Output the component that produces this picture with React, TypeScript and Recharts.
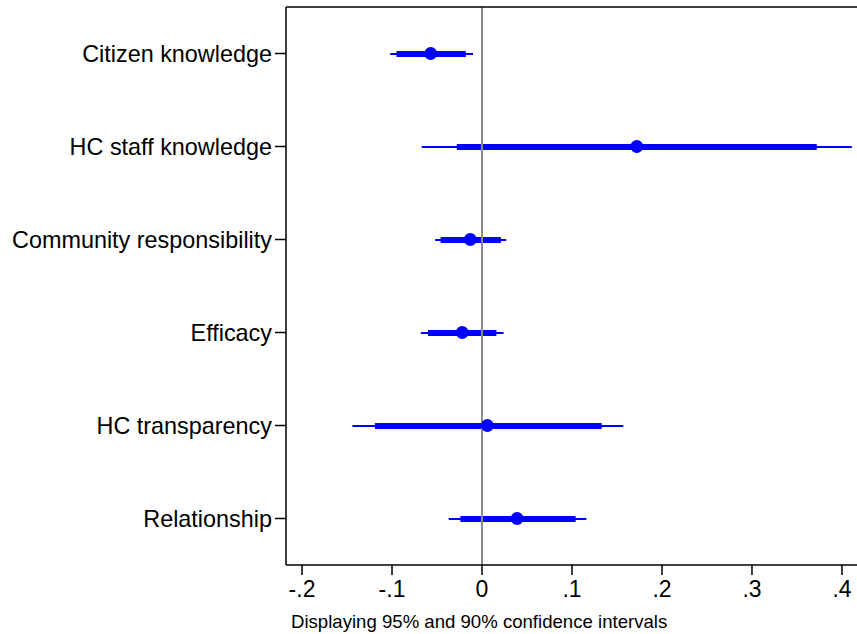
import React from 'react';
import {
  ComposedChart,
  Bar,
  Line,
  XAxis,
  YAxis,
  ReferenceLine,
} from 'recharts';

// Coefficient estimates with 95% and 90% confidence bounds
const categories = [
  'Citizen knowledge',
  'HC staff knowledge',
  'Community responsibility',
  'Efficacy',
  'HC transparency',
  'Relationship',
];
const estimates = [-0.057, 0.172, -0.013, -0.022, 0.006, 0.039];
const ci95Low = [-0.102, -0.067, -0.052, -0.068, -0.144, -0.037];
const ci95High = [-0.010, 0.411, 0.027, 0.024, 0.157, 0.116];
const ci90Low = [-0.095, -0.028, -0.046, -0.060, -0.119, -0.024];
const ci90High = [-0.018, 0.372, 0.021, 0.016, 0.133, 0.104];
const xTicks = [-0.2, -0.1, 0, 0.1, 0.2, 0.3, 0.4];
const caption = 'Displaying 95% and 90% confidence intervals';

const rows = categories.map((name, i) => ({
  name,
  est: estimates[i],
  ci95: [ci95Low[i], ci95High[i]],
  ci90: [ci90Low[i], ci90High[i]],
}));

const FONT = '"Liberation Sans", Arial, Helvetica, sans-serif';
const BLUE = '#0000ff';

const fmtTick = (v: number) => {
  const r = Math.round(v * 10) / 10;
  if (r === 0) return '0';
  const s = String(Math.abs(r)).replace(/^0/, '');
  return (r < 0 ? '-' : '') + s;
};

const CaptionLabel = (props: any) => {
  const vb = props.viewBox || {};
  return (
    <text
      x={(vb.x ?? 0) + 5}
      y={(vb.y ?? 0) + 63}
      fontSize={18.6}
      fontFamily={FONT}
      fill="#000"
    >
      {caption}
    </text>
  );
};

export default function App() {
  return (
    <div
      style={{
        position: 'absolute',
        left: 0,
        top: 0,
        width: 857,
        height: 634,
        overflow: 'hidden',
        background: '#fff',
      }}
    >
      <ComposedChart
        width={857}
        height={634}
        data={rows}
        layout="vertical"
        margin={{ top: 6, right: 0, bottom: 0, left: 0 }}
      >
        <XAxis
          xAxisId="main"
          type="number"
          domain={[-0.2178, 0.4167]}
          allowDataOverflow
          ticks={xTicks}
          tickFormatter={fmtTick}
          height={69}
          tickSize={10}
          tickMargin={6}
          interval={0}
          axisLine={{ stroke: '#000', strokeWidth: 1.5 }}
          tickLine={{ stroke: '#000', strokeWidth: 1.5 }}
          tick={{ fill: '#000', fontSize: 23, fontFamily: FONT }}
          label={<CaptionLabel />}
        />
        {/* frame line along the top of the plot region */}
        <XAxis
          xAxisId="top"
          type="number"
          orientation="top"
          domain={[-0.2178, 0.4167]}
          allowDataOverflow
          height={1}
          tick={false}
          tickLine={false}
          axisLine={{ stroke: '#000', strokeWidth: 1.5 }}
        />
        <YAxis
          yAxisId="a"
          dataKey="name"
          type="category"
          width={286}
          tickSize={11}
          tickMargin={3}
          interval={0}
          axisLine={{ stroke: '#000', strokeWidth: 1.5 }}
          tickLine={{ stroke: '#000', strokeWidth: 1.5 }}
          tick={{ fill: '#000', fontSize: 23.4, fontFamily: FONT }}
        />
        <YAxis yAxisId="b" dataKey="name" type="category" hide />
        <ReferenceLine
          xAxisId="main"
          yAxisId="a"
          x={0}
          stroke="#8c8c8c"
          strokeWidth={2}
        />
        <Bar
          xAxisId="main"
          yAxisId="a"
          dataKey="ci95"
          barSize={2}
          fill={BLUE}
          isAnimationActive={false}
        />
        <Bar
          xAxisId="main"
          yAxisId="b"
          dataKey="ci90"
          barSize={6}
          fill={BLUE}
          isAnimationActive={false}
        />
        <Line
          xAxisId="main"
          yAxisId="a"
          dataKey="est"
          stroke="none"
          dot={{ r: 6.5, fill: BLUE, stroke: 'none' }}
          activeDot={false}
          isAnimationActive={false}
        />
      </ComposedChart>
    </div>
  );
}
